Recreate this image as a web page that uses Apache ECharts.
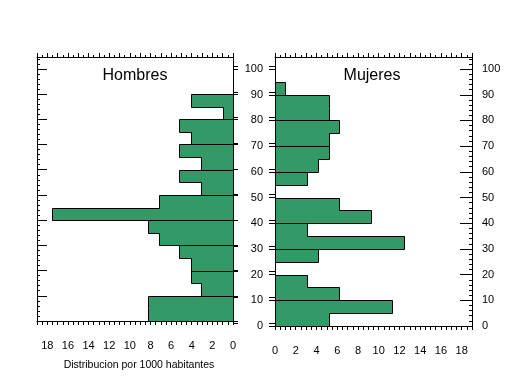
<!DOCTYPE html>
<html>
<head>
<meta charset="utf-8">
<script src="https://cdn.jsdelivr.net/npm/echarts@6/dist/echarts.min.js"></script>
<style>
  html, body { margin: 0; padding: 0; background: #fff; }
  #chart { width: 509px; height: 376px; }
</style>
</head>
<body>
<div id="chart"></div>
<script>
// Age bins (5 years) and rates per 1000 inhabitants
const ageStarts = [0, 5, 10, 15, 20, 25, 30, 35, 40, 45, 50, 55, 60, 65, 70, 75, 80, 85, 90];
const hombres = [8.2, 8.2, 3.1, 4.1, 4.1, 5.2, 7.2, 8.2, 17.5, 7.2, 3.1, 5.2, 3.1, 5.2, 4.1, 5.2, 1.0, 4.1, 0];
const mujeres = [5.2, 11.3, 6.2, 3.1, 0, 4.1, 12.4, 3.1, 9.3, 6.2, 0, 3.1, 4.1, 5.2, 5.2, 6.2, 5.2, 5.2, 1.0];
const yTicks = [0, 10, 20, 30, 40, 50, 60, 70, 80, 90, 100];

const FONT = "'Liberation Sans', Arial, sans-serif";
const BAR_COLOR = "#339966";
const Y_MAX = 104.7;
const X_MAX = 19;

// Bars are drawn as 10-year step blocks (two 5-year bins each)
function buildGroups(values) {
	const groups = [];
	for (let i = 0; i < ageStarts.length; i += 2) {
		groups.push([ageStarts[i], values[i] || 0, values[i + 1] || 0]);
	}
	return groups;
}

function renderGroup(params, api) {
	const s = api.value(0);
	const a = api.value(1);
	const b = api.value(2);
	if (!a && !b) return null;
	const pts = [
		[0, s], [a, s], [a, s + 5], [b, s + 5], [b, s + 10], [0, s + 10],
	].map(function (p) {
		const c = api.coord(p);
		return [Math.round(c[0]) + 0.5, Math.round(c[1]) + 0.5];
	});
	return {
		type: "polygon",
		shape: { points: pts },
		style: { fill: BAR_COLOR, stroke: "#000", lineWidth: 1 },
	};
}

const black = { color: "#000", width: 1 };
const labelStyle = { color: "#000", fontSize: 11, fontFamily: FONT };

function bottomX(grid, inverse, withName) {
	const ax = {
		gridIndex: grid, type: "value", position: "bottom",
		min: 0, max: X_MAX, interval: 0.5, inverse: inverse,
		axisLine: { show: true, onZero: false, lineStyle: black },
		axisTick: { show: true, length: 4, lineStyle: black },
		axisLabel: Object.assign({ margin: 19, formatter: function (v) { return v % 2 === 0 ? String(v) : ""; } }, labelStyle),
		splitLine: { show: false },
	};
	if (withName) {
		ax.name = "Distribucion por 1000 habitantes";
		ax.nameLocation = "middle";
		ax.nameGap = 39;
		ax.nameTextStyle = { color: "#000", fontSize: 10.5, fontFamily: FONT, padding: [0, 0, 0, 8] };
	}
	return ax;
}

function topX(grid, inverse) {
	return {
		gridIndex: grid, type: "value", position: "top",
		min: 0, max: X_MAX, interval: 1, inverse: inverse,
		axisLine: { show: true, onZero: false, lineStyle: black },
		axisTick: { show: true, length: 4, lineStyle: black },
		minorTick: { show: true, splitNumber: 2, length: 2, lineStyle: black },
		axisLabel: { show: false },
		splitLine: { show: false },
	};
}

function yAx(grid, pos, opts) {
	return Object.assign({
		gridIndex: grid, type: "value", position: pos,
		min: 0, max: Y_MAX,
		axisLine: { show: true, onZero: false, lineStyle: black },
		axisLabel: { show: false },
		splitLine: { show: false },
	}, opts);
}

const chart = echarts.init(document.getElementById("chart"), null, { renderer: "canvas" });

const option = {
	backgroundColor: "#fff",
	animation: false,
	grid: [
		{ left: 37, right: 276, top: 57, bottom: 50 },
		{ left: 275, right: 37, top: 57, bottom: 50 },
		{ left: 233, right: 234, top: 54, bottom: 53 },
	],
	xAxis: [
		bottomX(0, true, true),
		topX(0, true),
		bottomX(1, false, false),
		topX(1, false),
		{ gridIndex: 2, type: "value", show: false, min: 0, max: 1 },
	],
	yAxis: [
		// 0: left panel, left side minor ticks
		yAx(0, "left", { interval: 2, axisTick: { inside: true, length: 3, lineStyle: black } }),
		// 1: left panel, left side major ticks
		yAx(0, "left", { axisTick: { inside: true, length: 10, customValues: yTicks, lineStyle: black } }),
		// 2: left panel, right side outward ticks
		yAx(0, "right", { axisTick: { length: 5, customValues: yTicks, lineStyle: black } }),
		// 3: right panel, left side labels
		yAx(1, "left", {
			axisTick: { length: 6, customValues: yTicks, lineStyle: black },
			axisLabel: Object.assign({ show: true, margin: 12, customValues: yTicks }, labelStyle),
		}),
		// 4: right panel, right side minor ticks + labels
		yAx(1, "right", {
			interval: 2,
			axisTick: { inside: true, length: 3, lineStyle: black },
			axisLabel: Object.assign({ show: true, margin: 10, formatter: function (v) { return v % 10 === 0 ? String(v) : ""; } }, labelStyle),
		}),
		// 5: right panel, right side major ticks
		yAx(1, "right", { axisTick: { inside: true, length: 12, customValues: yTicks, lineStyle: black } }),
		// 6, 7: second stroke of the double ticks between the panels
		yAx(2, "left", { axisLine: { show: false }, axisTick: { inside: true, length: 5, customValues: yTicks, lineStyle: black } }),
		yAx(2, "right", { axisLine: { show: false }, axisTick: { inside: true, length: 6, customValues: yTicks, lineStyle: black } }),
	],
	graphic: [
		{ type: "text", x: 135, y: 76, style: { text: "Hombres", fill: "#000", font: "16px " + FONT, align: "center", verticalAlign: "middle" } },
		{ type: "text", x: 372, y: 76, style: { text: "Mujeres", fill: "#000", font: "16px " + FONT, align: "center", verticalAlign: "middle" } },
	],
	series: [
		{
			name: "Hombres", type: "custom", xAxisIndex: 0, yAxisIndex: 0,
			renderItem: renderGroup, data: buildGroups(hombres),
			encode: { x: [1, 2], y: 0 }, clip: false,
		},
		{
			name: "Mujeres", type: "custom", xAxisIndex: 2, yAxisIndex: 3,
			renderItem: renderGroup, data: buildGroups(mujeres),
			encode: { x: [1, 2], y: 0 }, clip: false,
		},
	],
};

chart.setOption(option);
</script>
</body>
</html>
